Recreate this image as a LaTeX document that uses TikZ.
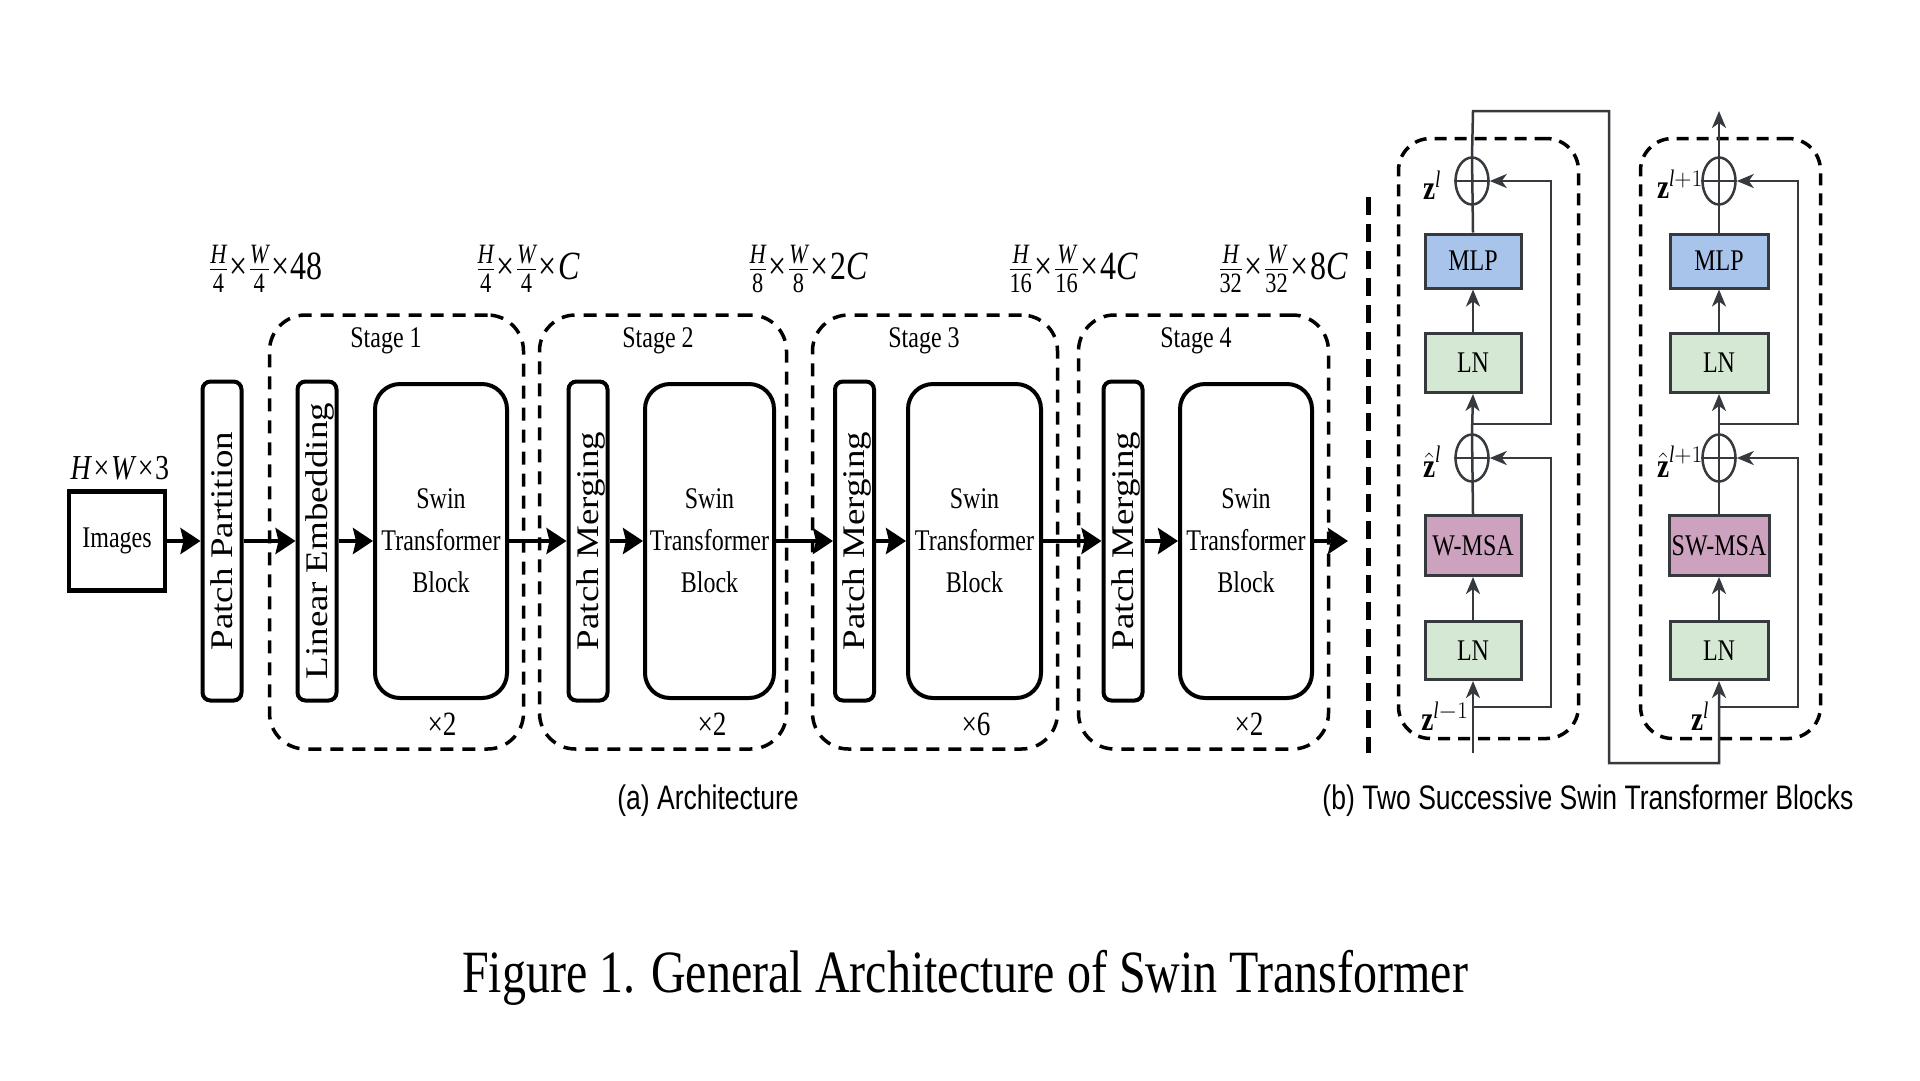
\RequirePackage{fix-cm}
\documentclass[tikz,border=0pt]{standalone}
\usepackage{amsmath}
\usepackage{graphicx}
\usepackage{fontspec}
\setmainfont{Liberation Serif}[FakeStretch=0.8]
\setsansfont{Liberation Sans}[FakeStretch=0.78]
\newfontfamily\rotf{Liberation Serif}
\usetikzlibrary{shapes.geometric,arrows.meta}
\definecolor{mlpblue}{HTML}{A9C4EB}
\definecolor{lngreen}{HTML}{D5E8D4}
\definecolor{msapink}{HTML}{CDA2BE}
\definecolor{bord}{HTML}{36393D}
\newcommand{\tx}{\kern1.5pt×\kern1.5pt}
\newcommand{\rt}[1]{\raisebox{-10pt}[0pt][0pt]{\scalebox{1}[0.85]{#1}}}
\tikzset{
  txt/.style={font=\fontsize{30}{42}\selectfont, align=center, inner sep=0pt},
  multf/.style={font=\fontsize{34}{36}\selectfont, inner sep=0pt},
  dimf/.style={font=\fontsize{40}{42}\selectfont, inner sep=0pt},
  zlab/.style={font=\fontsize{34}{36}\selectfont, inner sep=0pt},
  imgbox/.style={draw, line width=4.5pt, inner sep=0pt, minimum width=96pt, minimum height=99pt, font=\fontsize{30}{36}\selectfont},
  swinbox/.style={draw, line width=4pt, rounded corners=25pt, inner sep=0pt, align=center, minimum height=314pt, font=\fontsize{30}{42}\selectfont},
  thinbox/.style={draw, line width=4pt, rounded corners=8pt, inner sep=0pt, rotate=90, minimum width=319pt, minimum height=39pt, font=\rotf\fontsize{37}{40}\selectfont},
  stagebox/.style={draw, line width=3.5pt, dash pattern=on 13pt off 9pt, rounded corners=36pt, inner sep=0pt, minimum height=434pt},
  blockbox/.style={draw, line width=3.5pt, dash pattern=on 12pt off 8pt, rounded corners=32pt, inner sep=0pt, minimum width=180pt, minimum height=600pt},
  flow/.style={line width=4pt, -{Stealth[length=20pt,width=26pt,inset=3pt]}},
  rbox/.style={draw=bord, line width=3pt, inner sep=0pt, minimum width=96pt, font=\fontsize{30}{36}\selectfont},
  rline/.style={draw=bord, line width=2.5pt},
  rarrow/.style={rline, -{Stealth[length=17pt,width=14pt,inset=5pt]}},
  plus/.style={ellipse, draw=bord, line width=2.5pt, minimum width=33pt, minimum height=47pt, inner sep=0pt},
  capa/.style={font=\sffamily\fontsize{34}{36}\selectfont, inner sep=0pt},
  capfig/.style={font=\fontsize{60}{64}\selectfont, inner sep=0pt}
}
\begin{document}
\begin{tikzpicture}[x=1pt,y=-1pt]
\useasboundingbox (0,0) rectangle (1920,1080);
\fill[white] (0,0) rectangle (1920,1080);

% ---------------- (a) Architecture ----------------
\node[stagebox, minimum width=254pt] (s1) at (396.5,532) {};
\node[stagebox, minimum width=247pt] (s2) at (663,532) {};
\node[stagebox, minimum width=245pt] (s3) at (935,532) {};
\node[stagebox, minimum width=250pt] (s4) at (1203.5,532) {};

\node[txt] (s1l) at (386,341) {Stage 1};
\node[txt] (s2l) at (658,341) {Stage 2};
\node[txt] (s3l) at (924,341) {Stage 3};
\node[txt] (s4l) at (1196,341) {Stage 4};

\node[imgbox] (img) at (117,541) {Images};
\node[txt, font=\fontsize{35}{38}\selectfont] (hw3) at (120,468) {\textit{H}\tx\textit{W}\tx 3};

\node[thinbox] (pp) at (222,541) {\rt{Patch Partition}};
\node[thinbox] (le) at (317,541) {\rt{Linear Embedding}};
\node[swinbox, minimum width=132pt] (sw1) at (441,541) {Swin\\Transformer\\Block};
\node[thinbox] (pm2) at (588,541) {\rt{Patch Merging}};
\node[swinbox, minimum width=129pt] (sw2) at (709.5,541) {Swin\\Transformer\\Block};
\node[thinbox] (pm3) at (854.5,541) {\rt{Patch Merging}};
\node[swinbox, minimum width=133pt] (sw3) at (974.5,541) {Swin\\Transformer\\Block};
\node[thinbox] (pm4) at (1123,541) {\rt{Patch Merging}};
\node[swinbox, minimum width=132pt] (sw4) at (1246,541) {Swin\\Transformer\\Block};
\coordinate (out) at (1348,541);

\node[multf] (x1) at (442,724) {×2};
\node[multf] (x2) at (712,724) {×2};
\node[multf] (x3) at (976,724) {×6};
\node[multf] (x4) at (1249,724) {×2};

\node[dimf] (d1) at (266,269) {$\frac{\textit{H}}{\text{4}}$\tx$\frac{\textit{W}}{\text{4}}$\tx 48};
\node[dimf] (d2) at (528,269) {$\frac{\textit{H}}{\text{4}}$\tx$\frac{\textit{W}}{\text{4}}$\tx\textit{C}};
\node[dimf] (d3) at (808,269) {$\frac{\textit{H}}{\text{8}}$\tx$\frac{\textit{W}}{\text{8}}$\tx 2\textit{C}};
\node[dimf] (d4) at (1073,269) {$\frac{\textit{H}}{\text{16}}$\tx$\frac{\textit{W}}{\text{16}}$\tx 4\textit{C}};
\node[dimf] (d5) at (1283,269) {$\frac{\textit{H}}{\text{32}}$\tx$\frac{\textit{W}}{\text{32}}$\tx 8\textit{C}};

\draw[flow] (img.east) -- (pp.north);
\draw[flow] (pp.south) -- (le.north);
\draw[flow] (le.south) -- (sw1.west);
\draw[flow] (sw1.east) -- (pm2.north);
\draw[flow] (pm2.south) -- (sw2.west);
\draw[flow] (sw2.east) -- (pm3.north);
\draw[flow] (pm3.south) -- (sw3.west);
\draw[flow] (sw3.east) -- (pm4.north);
\draw[flow] (pm4.south) -- (sw4.west);
\draw[flow] (sw4.east) -- (out);

% separator
\coordinate (sepT) at (1368,197);
\coordinate (sepB) at (1368,753);
\draw[line width=5pt, dash pattern=on 18pt off 9pt] (sepT) -- (sepB);

% ---------------- (b) Two successive blocks ----------------
\node[blockbox] (bL) at (1488.5,438.5) {};
\node[blockbox] (bR) at (1730.5,438.5) {};

% left block
\node[rbox, fill=lngreen, minimum height=58pt] (lnA) at (1473,650.5) {LN};
\node[rbox, fill=msapink, minimum height=60pt] (wmsa) at (1473,545.5) {W-MSA};
\node[plus] (p1) at (1472,458) {};
\node[rbox, fill=lngreen, minimum height=59pt] (lnB) at (1473,363) {LN};
\node[rbox, fill=mlpblue, minimum height=54pt] (mlp1) at (1473,261) {MLP};
\node[plus] (p2) at (1472,181) {};

% right block
\node[rbox, fill=lngreen, minimum height=58pt, minimum width=98pt] (lnC) at (1719,650.5) {LN};
\node[rbox, fill=msapink, minimum height=60pt, minimum width=100pt] (swmsa) at (1719,545.5) {SW-MSA};
\node[plus] (p3) at (1719,458) {};
\node[rbox, fill=lngreen, minimum height=59pt, minimum width=98pt] (lnD) at (1719,363) {LN};
\node[rbox, fill=mlpblue, minimum height=54pt, minimum width=98pt] (mlp2) at (1719,261) {MLP};
\node[plus] (p4) at (1719,181) {};

% labels
\node[zlab] (zA) at (1432,185) {$\textbf{z}^{\textit{l}}$};
\node[zlab] (zB) at (1432,462) {$\hat{\textbf{z}}^{\textit{l}}$};
\node[zlab] (zC) at (1445,716) {$\textbf{z}^{\textit{l}-1}$};
\node[zlab] (zD) at (1680,184) {$\textbf{z}^{\textit{l}+1}$};
\node[zlab] (zE) at (1680,462) {$\hat{\textbf{z}}^{\textit{l}+1}$};
\node[zlab] (zF) at (1700,716) {$\textbf{z}^{\textit{l}}$};

% coordinates left block
\coordinate (inL) at (1473,753);
\coordinate (jL1) at (1473,707);
\coordinate (sL1) at (1551,458);
\coordinate (jL2) at (1473,424);
\coordinate (sL2) at (1551,181);
% connector between blocks
\coordinate (t1) at (1473,111);
\coordinate (t2) at (1609,111);
\coordinate (t3) at (1609,763);
\coordinate (t4) at (1719,763);
% coordinates right block
\coordinate (jR1) at (1719,707);
\coordinate (sR1) at (1798,458);
\coordinate (jR2) at (1719,424);
\coordinate (sR2) at (1798,181);
\coordinate (outR) at (1719,111);

% left block connectors
\draw[rarrow] (inL) -- (lnA.south);
\draw[rarrow] (jL1) -| (sL1) -- (p1.east);
\draw[rarrow] (lnA.north) -- (wmsa.south);
\draw[rline] (wmsa.north) -- (p1.north);
\draw[rline] (p1.west) -- (p1.east);
\draw[rarrow] (p1.north) -- (lnB.south);
\draw[rarrow] (jL2) -| (sL2) -- (p2.east);
\draw[rarrow] (lnB.north) -- (mlp1.south);
\draw[rline] (mlp1.north) -- (p2.north);
\draw[rline] (p2.west) -- (p2.east);
\draw[rarrow] (p2.north) -- (t1) -- (t2) -- (t3) -- (t4) -- (lnC.south);

% right block connectors
\draw[rarrow] (jR1) -| (sR1) -- (p3.east);
\draw[rarrow] (lnC.north) -- (swmsa.south);
\draw[rline] (swmsa.north) -- (p3.north);
\draw[rline] (p3.west) -- (p3.east);
\draw[rarrow] (p3.north) -- (lnD.south);
\draw[rarrow] (jR2) -| (sR2) -- (p4.east);
\draw[rarrow] (lnD.north) -- (mlp2.south);
\draw[rline] (mlp2.north) -- (p4.north);
\draw[rline] (p4.west) -- (p4.east);
\draw[rarrow] (p4.north) -- (outR);

% captions
\node[capa] (capA) at (708,801) {(a) Architecture};
\node[capa] (capB) at (1588,801) {(b) Two Successive Swin Transformer Blocks};
\node[capfig] (capF) at (965,978) {Figure 1. General Architecture of Swin Transformer};
\end{tikzpicture}
\end{document}
